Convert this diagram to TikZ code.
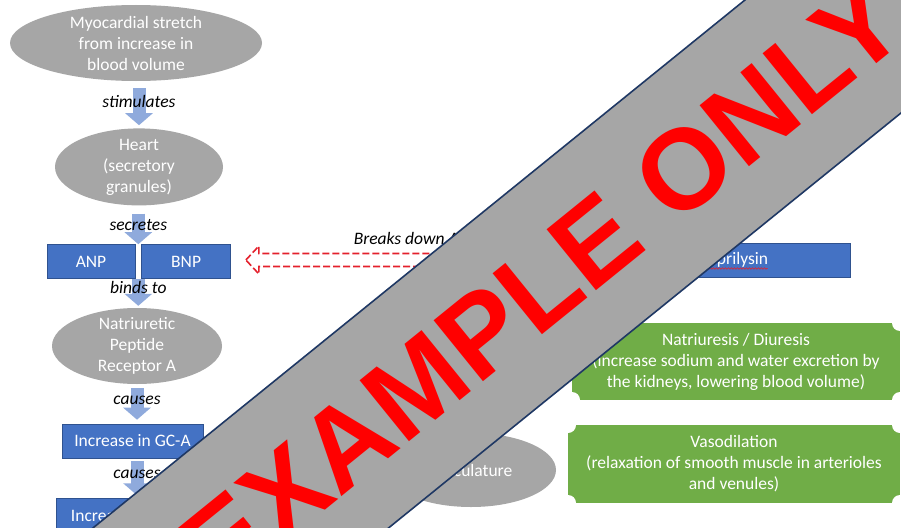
\documentclass[tikz,border=0pt]{standalone}
\usepackage{fontspec}
\setmainfont{Carlito}
\newfontfamily\bannerfont{Liberation Sans}
\usetikzlibrary{positioning,arrows.meta,shapes.geometric,calc,decorations.pathmorphing}
\definecolor{ovalgray}{RGB}{166,166,166}
\definecolor{boxblue}{RGB}{68,114,196}
\definecolor{boxedge}{RGB}{47,82,143}
\definecolor{flowblue}{RGB}{143,170,220}
\definecolor{leafgreen}{RGB}{112,173,71}
\definecolor{dashred}{RGB}{228,32,44}
\definecolor{bannerline}{RGB}{31,56,100}
\newcommand{\slidefont}{\fontsize{17.5}{21}\selectfont}
\tikzset{
  oval/.style={ellipse,fill=ovalgray,text=white,align=center,inner sep=-4pt},
  bluebox/.style={rectangle,fill=boxblue,draw=boxedge,line width=0.6pt,text=white,minimum height=34pt,inner sep=0pt},
  plaque/.style={rectangle,fill=leafgreen,text=white,align=center,inner sep=0pt,
    path picture={\foreach \c in {north west,north east,south west,south east}
      \fill[white] (path picture bounding box.\c) circle (8pt);}},
  flow/.style={flowblue,line width=13pt,-{Triangle[width=27pt,length=12pt]}},
  lbl/.style={font=\slidefont\itshape,text=black},
  brk/.style={dashred,line width=1.6pt,dash pattern=on 7pt off 3pt}
}
\begin{document}
\begin{tikzpicture}[x=1pt,y=-1pt,font=\slidefont]
\useasboundingbox (0,0) rectangle (901,527);
\fill[white] (0,0) rectangle (901,527);
\clip (0,0) rectangle (901,527);
\node[oval,minimum width=252pt,minimum height=76pt] (myo) at (136,43) {Myocardial stretch\\from increase in\\blood volume};
\node[oval,minimum width=168pt,minimum height=77pt,below=47pt of myo,xshift=3pt] (heart) {Heart\\(secretory\\granules)};
\node[bluebox,minimum width=88pt] (anp) at (91,261.5) {ANP};
\node[bluebox,minimum width=89pt,right=6pt of anp] (bnp) {BNP};
\coordinate (gap) at ($(anp.east)!0.5!(bnp.west)$);
\node[oval,minimum width=170pt,minimum height=76pt] (npr) at (137,346) {Natriuretic\\Peptide\\Receptor A};
\node[bluebox,minimum width=141pt] (gca) at (132.5,441) {Increase in GC-A};
\node[bluebox,minimum width=152pt,below=40pt of gca] (cgmp) {Increase in cGMP};
\node[bluebox,minimum width=235pt] (nep) at (732.5,260) {Neprilysin};
\node[plaque,minimum width=328pt,minimum height=77pt] (natr) at (736,361.5) {Natriuresis / Diuresis\\(increase sodium and water excretion by\\the kidneys, lowering blood volume)};
\node[plaque,minimum width=332pt,minimum height=78pt] (vaso) at (734,464) {Vasodilation\\(relaxation of smooth muscle in arterioles\\and venules)};
\node[oval,minimum width=170pt,minimum height=74pt] (vasc) at (471,470) {Vasculature};

\draw[flow,shorten <=7pt,shorten >=3pt] (myo.south -| heart.north) -- (heart.north) node[lbl,pos=0.43] {stimulates};
\draw[flow,shorten <=8pt] (heart.south -| gap) -- (gap |- anp.north) node[lbl,midway] {secretes};
\draw[flow,shorten >=2pt] (gap |- anp.south) -- (npr.north -| gap) node[lbl,pos=0.31] {binds to};
\draw[flow,shorten <=4pt,shorten >=4pt] (npr.south) -- (gca.north -| npr.south) node[lbl,pos=0.4] {causes};
\draw[flow,shorten <=3pt,shorten >=3pt] (gca.south -| npr.south) -- (cgmp.north -| npr.south) node[lbl,pos=0.4] {causes};

\coordinate (tip) at ($(bnp.east |- nep.west)+(15,0)$);
\draw[brk] (tip) -- ++(13,-14) -- ++(0,7.5) -- ($(nep.west)+(0,-6.5)$) -- ($(nep.west)+(0,6.5)$) -- ($(tip)+(13,6.5)$) -- ++(0,7.5) -- cycle;
\path (tip) -- (nep.west) node[lbl,pos=0.55,above=12pt] (brklbl) {Breaks down ANP and BNP};
\draw[dashred,line width=0.6pt,decorate,decoration={snake,amplitude=0.8pt,segment length=3pt}] ($(nep.center)+(-35,8.5)$) -- ($(nep.center)+(35,8.5)$);

\begin{scope}[shift={(542,284)},rotate=39]
\draw[fill=ovalgray,draw=bannerline,line width=1.6pt] (-720,-93) rectangle (720,93);
\node[text=red,font=\bannerfont\bfseries\fontsize{114}{114}\selectfont,rotate=39] (stamp) at (0,0) {EXAMPLE ONLY};
\end{scope}
\end{tikzpicture}
\end{document}
